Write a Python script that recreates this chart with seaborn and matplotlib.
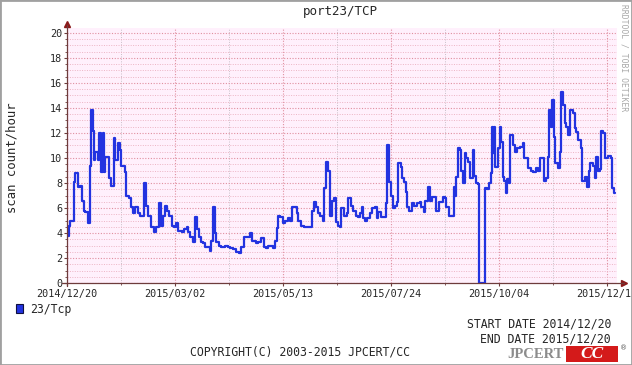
import pandas as pd
import matplotlib
matplotlib.use("Agg")
import matplotlib.pyplot as plt
import matplotlib.dates as mdates
from matplotlib.patches import Rectangle
import seaborn as sns

# days since 2014/12/20 where the hourly scan rate changes (step data)
day_offset = [
    0, 1.1, 2, 4.5, 5.5, 7.3, 8.9, 10, 11.1, 12, 14, 15.1, 15.8, 17.1, 18.2, 18.9,
    20.7, 21.5, 22.7, 23.8, 24.9, 25.5, 27.8, 29.5, 31.1, 32.2, 33.8, 35.5, 36.2,
    38.5, 39.5, 41.1, 42.7, 44, 45.3, 47.5, 48.7, 51.5, 52.7, 54.2, 56, 58, 59.3,
    61.3, 62.7, 63.8, 65.3, 66.5, 68, 69.8, 71.5, 72.7, 73.8, 76.5, 78.2, 79.8,
    80.9, 82, 83.8, 85.3, 86.5, 88.2, 89.3, 90.7, 92.2, 95.1, 96.2, 97.3, 98.5,
    99.5, 101.3, 102.9, 105.1, 107.3, 108.9, 110.7, 112.9, 114.7, 116.2, 117.8,
    122.2, 123.5, 125.8, 127.3, 129.5, 131.1, 132.9, 134, 137.5, 138.7, 139.8,
    140.9, 142, 143.8, 145.3, 147.1, 148.7, 149.8, 153.1, 154.2, 156, 158, 163.1,
    164.9, 166, 167.1, 168.9, 170.5, 171.5, 172.7, 174, 175.3, 176.7, 178.2, 179.3,
    180.7, 182, 182.9, 184.7, 186.5, 187.5, 189.1, 190.9, 192.5, 194, 195.3, 196.5,
    197.5, 198.7, 200.2, 202, 203.5, 205.3, 206.5, 207.3, 209.1, 212.5, 213.5,
    214.7, 216.2, 217.3, 218.7, 220.2, 220.9, 222.5, 223.5, 224.7, 225.8, 226.7,
    228.2, 230, 231.5, 233.3, 235.1, 236.2, 237.8, 238.9, 240.7, 241.8, 243.3,
    246.2, 247.8, 250.7, 251.8, 252.9, 254.5, 257.8, 258.9, 259.5, 260.7, 261.8,
    262.9, 264, 265.1, 266.2, 267.3, 268.9, 270.5, 271.3, 272.5, 273.8, 274.7,
    278.7, 280.2, 281.5, 282.7, 283.3, 284.2, 284.9, 285.5, 287.5, 288.7, 289.3,
    290.5, 291.5, 292.7, 293.5, 294.7, 295.3, 297.5, 298.7, 300.2, 302, 303.8,
    304.7, 307.1, 309.3, 310.9, 312.5, 314.2, 315.1, 318, 319.5, 320.7, 321.3,
    322.5, 323.3, 324.5, 325.5, 327.3, 328.5, 329.5, 330.7, 331.8, 332.9, 334,
    335.1, 337.3, 338.5, 339.5, 340.7, 342.5, 343.5, 345.1, 346.7, 347.8, 348.9,
    350.7, 352.2, 352.9, 354, 355.1, 356, 357.3, 358.5, 360.7, 362.5, 363.3, 364.7,
    365.3,
]
scan_count = [
    3.8, 4.6, 5.0, 8.1, 8.8, 7.7, 7.8, 6.6, 5.8, 5.7, 4.8, 9.4, 13.8, 12.2, 9.8, 10.5,
    9.8, 12.0, 8.9, 12.0, 8.9, 10.1, 8.4, 7.8, 11.6, 9.8, 11.2, 10.6, 9.4,
    8.9, 7.0, 6.8, 6.1, 5.6, 6.1, 5.6, 5.4, 8.0, 6.2, 5.4, 4.5, 4.1, 4.5,
    6.4, 4.6, 5.4, 6.2, 5.8, 5.4, 4.6, 4.5, 4.8, 4.2, 4.1, 4.3, 4.5,
    4.1, 3.7, 3.3, 5.3, 4.3, 3.7, 3.3, 3.2, 2.9, 2.6, 3.4, 6.1, 4.0,
    3.3, 3.0, 2.9, 3.0, 2.9, 2.8, 2.7, 2.5, 2.4, 2.9, 3.7,
    4.0, 3.4, 3.2, 3.3, 3.6, 2.9, 2.8, 3.0, 2.8, 3.4, 4.4,
    5.4, 5.3, 4.8, 5.0, 5.2, 5.0, 6.1, 5.6, 5.0, 4.6, 4.5, 5.8,
    6.5, 6.1, 5.6, 5.4, 5.0, 7.6, 9.7, 9.0, 5.4, 6.6, 6.8, 4.9,
    4.6, 4.5, 6.0, 5.4, 5.6, 6.8, 6.2, 5.8, 5.4, 5.3, 5.6, 6.1,
    5.2, 5.0, 5.2, 5.6, 6.0, 6.1, 5.2, 5.7, 5.3, 6.4, 11.0,
    8.1, 7.0, 6.0, 6.2, 6.5, 9.6, 9.3, 8.4, 8.1, 7.3, 6.1,
    5.8, 6.4, 6.2, 6.4, 6.5, 6.1, 5.7, 6.6, 7.7, 6.6, 6.9,
    5.8, 6.5, 6.9, 6.8, 6.1, 5.4, 7.7, 7.0, 8.5, 10.8, 10.6,
    9.0, 8.0, 10.4, 10.0, 9.7, 8.4, 10.6, 8.6, 8.0, 7.9, 0.0,
    7.6, 7.5, 8.0, 8.8, 12.5, 10.4, 12.5, 9.3, 10.8, 12.5, 11.3,
    8.5, 8.2, 7.2, 8.3, 8.0, 11.8, 11.0, 10.5, 10.8, 10.9, 11.2,
    10.0, 9.2, 9.0, 8.9, 9.2, 9.0, 10.0, 8.2, 8.4, 10.1, 13.8,
    12.5, 14.6, 11.7, 9.6, 9.2, 10.5, 15.3, 14.2, 12.8, 12.5, 11.8,
    13.8, 13.6, 12.4, 12.1, 11.4, 10.8, 8.2, 8.5, 7.7, 9.0, 9.6,
    9.4, 8.4, 10.1, 9.0, 9.1, 12.2, 12.0, 10.0, 10.2, 10.0, 7.6, 7.2,
    7.2,
]

start_date = "2014-12-20"
end_date = "2015-12-20"
tick_step_days = 72
series_label = "23/Tcp"

W, H = 632, 365


def fx(x):
    return x / W


def fy(y):
    return 1 - y / H


sns.set_style("white")
plt.rcParams["font.family"] = ["DejaVu Sans Mono"]

start = pd.Timestamp(start_date)
df = pd.DataFrame({
    "date": start + pd.to_timedelta(day_offset, unit="D"),
    "count": scan_count,
})

fig = plt.figure(figsize=(W / 100, H / 100), dpi=100, facecolor="white")
ax = fig.add_axes([fx(67), fy(283), 550 / W, 255 / H])
ax.set_facecolor("#fff0fc")

sns.lineplot(data=df, x="date", y="count", drawstyle="steps-post",
             color="#2233e0", lw=1.6, ax=ax, zorder=3)

major = [start + pd.Timedelta(days=tick_step_days * k) for k in range(6)]
minor = [start + pd.Timedelta(days=tick_step_days * k + 36) for k in range(5)]
ax.set_xticks(major)
ax.set_xticks(minor, minor=True)
ax.xaxis.set_major_formatter(mdates.DateFormatter("%Y/%m/%d"))
ax.set_yticks(range(0, 21, 2))
ax.set_yticks([v / 2 for v in range(0, 41)], minor=True)

# limits last, so the tick setters cannot widen them
ax.set_xlim(start, start + pd.Timedelta(days=366.7))
ax.set_ylim(0, 20.4)

dot = (0, (1, 1.5))
ax.grid(which="major", axis="y", color="#e08fa0", ls=dot, lw=0.8)
ax.grid(which="minor", axis="y", color="#ecb4c4", ls=dot, lw=0.7)
ax.grid(which="major", axis="x", color="#e08fa0", ls=dot, lw=0.8)
ax.grid(which="minor", axis="x", color="#c8c0c8", ls=dot, lw=0.7)
ax.set_axisbelow(True)

for s in ax.spines.values():
    s.set_visible(False)
axis_col = "#6e3c3c"
ax.plot([0, 0], [-0.01, 1.01], transform=ax.transAxes, color=axis_col, lw=0.9, clip_on=False, zorder=4)
ax.plot([-0.009, 1.013], [0, 0], transform=ax.transAxes, color=axis_col, lw=0.9, clip_on=False, zorder=4)
ax.plot([0], [1.015], marker="^", ms=4.5, color="#8b1a1a", transform=ax.transAxes, clip_on=False)
ax.plot([1.013], [0], marker=">", ms=4.5, color="#8b1a1a", transform=ax.transAxes, clip_on=False)

ax.tick_params(axis="both", which="both", direction="out", color=axis_col, labelsize=7.3)
ax.tick_params(axis="y", which="major", length=2, pad=1.5, left=True)
ax.tick_params(axis="y", which="minor", length=1.2, left=True)
ax.tick_params(axis="x", which="major", length=2, pad=2.5, bottom=True)
ax.tick_params(axis="x", which="minor", length=1.2, bottom=True)
ax.set_xlabel("")
ax.set_ylabel("")

fig.text(fx(340), fy(12), "port23/TCP", ha="center", va="center", fontsize=9)
fig.text(fx(12), fy(158), "scan count/hour", rotation=90, ha="center", va="center", fontsize=8.8)
fig.text(fx(624), fy(4), "RRDTOOL / TOBI OETIKER", rotation=-90, ha="center", va="top",
         fontsize=5.8, color="#a8a8a8")

# legend
fig.add_artist(Rectangle((fx(16), fy(313)), 7 / W, 9 / H, transform=fig.transFigure,
                         facecolor="#2233e0", edgecolor="#101040", lw=0.8))
fig.text(fx(30), fy(309), series_label, ha="left", va="center", fontsize=8.3)

fig.text(fx(611), fy(324), "START DATE " + start_date.replace("-", "/"),
         ha="right", va="center", fontsize=8.3)
fig.text(fx(611), fy(339), "END DATE " + end_date.replace("-", "/"),
         ha="right", va="center", fontsize=8.3)
fig.text(fx(300), fy(352), "COPYRIGHT(C) 2003-2015 JPCERT/CC", ha="center", va="center", fontsize=8.3)

# logo
fig.text(fx(564), fy(354), "JPCERT", ha="right", va="center", fontsize=10.5,
         family="Liberation Serif", weight="bold", color="#8c8c8c")
fig.add_artist(Rectangle((fx(566), fy(362)), 52 / W, 16 / H, transform=fig.transFigure,
                         facecolor="#d41a1a", edgecolor="none"))
fig.text(fx(592), fy(354), "CC", ha="center", va="center", fontsize=12.5,
         family="Liberation Serif", weight="bold", style="italic", color="white")
fig.text(fx(624), fy(348), "®", ha="center", va="center", fontsize=5,
         family="DejaVu Sans", color="#555555")

fig.add_artist(Rectangle((0, 0), 1, 1, transform=fig.transFigure, fill=False,
                         edgecolor="#a0a0a0", lw=2))

fig.savefig("out.png", dpi=100, facecolor="white")
